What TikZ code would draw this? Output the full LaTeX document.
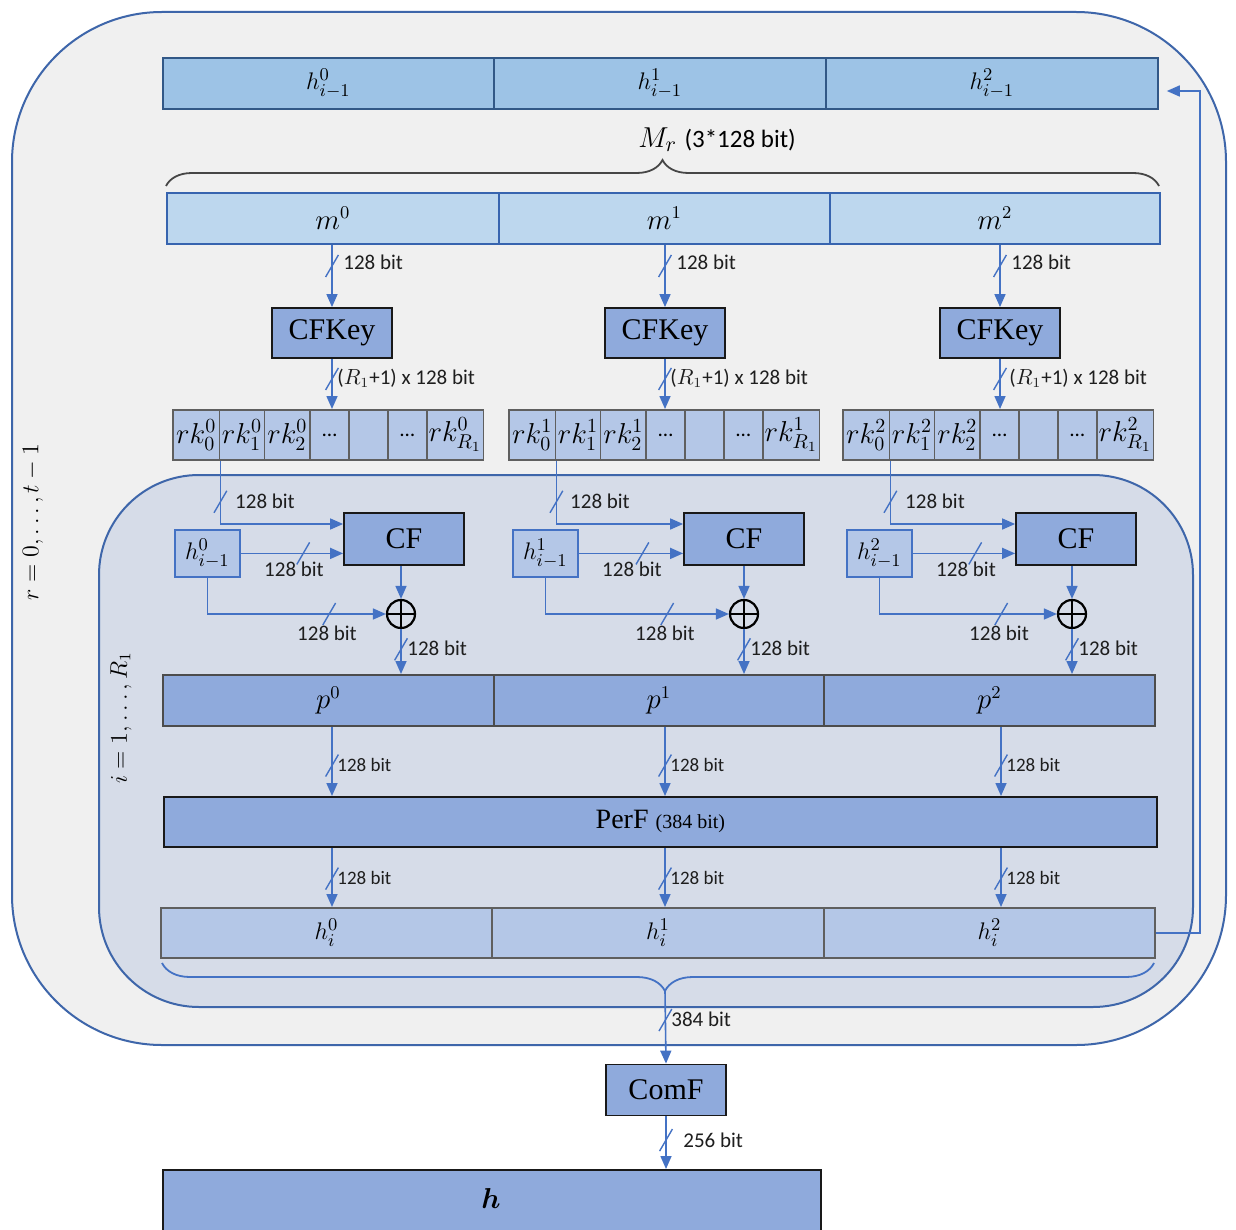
\documentclass[tikz,border=0pt]{standalone}
\usepackage{amsmath}
\usepackage{fontspec}
\setmainfont{Liberation Serif}
\newfontfamily\lblfont{Carlito}
\usetikzlibrary{arrows.meta,decorations.pathreplacing,decorations.markings,calc}

\definecolor{outerfill}{RGB}{240,240,240}
\definecolor{innerfill}{RGB}{214,220,232}
\definecolor{frameblue}{RGB}{62,102,170}
\definecolor{linkblue}{RGB}{68,114,196}
\definecolor{barfill}{RGB}{157,195,230}
\definecolor{barline}{RGB}{50,88,135}
\definecolor{msgfill}{RGB}{189,215,238}
\definecolor{msgline}{RGB}{55,100,175}
\definecolor{funcfill}{RGB}{143,170,220}
\definecolor{cellfill}{RGB}{180,199,231}
\definecolor{cellline}{RGB}{95,95,95}
\definecolor{darkline}{RGB}{25,25,25}
\definecolor{bracegray}{RGB}{70,70,70}
\definecolor{lbltext}{RGB}{30,30,30}

\tikzset{
  x=0.5pt, y=-0.5pt,
  wh/.style 2 args={minimum width={(#1)*0.5pt}, minimum height={(#2)*0.5pt}},
  cell/.style={draw, line width=0.9pt, inner sep=0pt, anchor=north west,
    font=\fontsize{12.5}{13}\selectfont},
  barcell/.style={cell, fill=barfill, draw=barline},
  msgcell/.style={cell, fill=msgfill, draw=msgline, font=\fontsize{13.5}{14}\selectfont},
  pcell/.style={cell, fill=funcfill, draw=cellline!80!black, font=\fontsize{13.5}{14}\selectfont},
  hcell/.style={cell, fill=cellfill, draw=cellline},
  rkcell/.style={cell, fill=cellfill, draw=cellline, font=\fontsize{14.5}{15}\selectfont},
  func/.style={draw=darkline, fill=funcfill, line width=0.9pt, inner sep=0pt,
    font=\fontsize{15}{16}\selectfont},
  prevbox/.style={cell, fill=cellfill, draw=linkblue},
  xorn/.style={circle, draw=black, line width=1.1pt, minimum size=14pt, inner sep=0pt,
    path picture={\draw[line width=1.1pt]
      (path picture bounding box.north) -- (path picture bounding box.south)
      (path picture bounding box.west) -- (path picture bounding box.east);}},
  link/.style={draw=linkblue, line width=0.8pt, -{Triangle[length=6.5pt,width=5.5pt]}},
  slash/.style={postaction={decorate, decoration={markings, mark=at position #1 with
    {\pgftransformresetnontranslations
     \draw[arrows=-, line width=0.7pt, linkblue] (-3.2pt,-5.5pt) -- (3.2pt,5.5pt);}}}},
  bitlbl/.style={font=\lblfont\fontsize{10.5}{12}\selectfont, text=lbltext, inner sep=0pt},
  bitsmall/.style={font=\lblfont\fontsize{9.5}{10}\selectfont, text=lbltext, inner sep=0pt},
  framebox/.style={draw=frameblue, line width=1pt},
}

\begin{document}
\begin{tikzpicture}
\useasboundingbox (0,0) rectangle (1236,1230);
\fill[white] (0,0) rectangle (1236,1230);

% outer loop over r and inner loop over i
\draw[framebox, fill=outerfill, rounded corners=75pt] (12,12) rectangle (1226,1045);
\draw[framebox, fill=innerfill, rounded corners=50pt] (99,475) rectangle (1193,1007);

\node[rotate=90, font=\fontsize{12.5}{13}\selectfont] (rlab) at (33,522) {$r = 0, \dots, t-1$};
\node[rotate=90, font=\fontsize{12}{13}\selectfont] (ilab) at (121,718) {$i = 1, \dots, R_1$};

% chaining value of the previous step
\foreach \i/\a/\b in {0/162/493,1/493/825,2/825/1157}{
  \node[barcell, wh={\b-\a}{51}] (hp\i) at (\a,57) {$h^{\i}_{i-1}$};
}

% message block
\node[font=\fontsize{15}{16}\selectfont, inner sep=0pt] (mr) at (717,140)
  {$M_r$ {\lblfont\fontsize{12.5}{14}\selectfont(3*128 bit)}};
\draw[bracegray, line width=0.9pt, decorate, decoration={brace, amplitude=13pt}]
  (166,186) -- (1159,186);
\foreach \i/\a/\b in {0/166/498,1/498/829,2/829/1159}{
  \node[msgcell, wh={\b-\a}{51}] (m\i) at (\a,192) {$m^{\i}$};
}

% column axes
\coordinate (ax0) at (332,0);
\coordinate (ax1) at (665,0);
\coordinate (ax2) at (1001,0);

% key schedule
\foreach \g/\kx in {0/332,1/665,2/1000}{
  \node[func, wh={120}{50}] (cfk\g) at (\kx,333) {CFKey};
}

\foreach \g/\gx in {0/172,1/508,2/842}{
  \foreach \c/\o/\w/\t in {0/0/46.6/{$rk^{\g}_{0}$}, 1/46.6/45/{$rk^{\g}_{1}$},
      2/91.6/45.7/{$rk^{\g}_{2}$}, 3/137.3/39/{\lblfont\fontsize{10.5}{12}\selectfont …},
      4/176.3/38.7/{}, 5/215/39/{\lblfont\fontsize{10.5}{12}\selectfont …},
      6/254/56.6/{$rk^{\g}_{R_1}$}}{
    \node[rkcell, wh={\w}{50}] (rk\g-\c) at (\gx+\o,409) {\t};
  }
}

% compression function of one step
\foreach \g/\cx/\hx/\xx in {0/404/174/401,1/744/512/744,2/1076/846/1072}{
  \node[func, wh={120}{52}] (cf\g) at (\cx,539) {CF};
  \node[prevbox, wh={65}{47}] (h\g) at (\hx,529) {$h^{\g}_{i-1}$};
  \node[xorn] (x\g) at (\xx,614) {};
}

\foreach \i/\a/\b in {0/162/493,1/493/823,2/823/1154}{
  \node[pcell, wh={\b-\a}{51}] (p\i) at (\a,674) {$p^{\i}$};
}

\node[func, wh={993}{50}, anchor=north west, font=\fontsize{14}{15}\selectfont] (perf) at (163,796)
  {PerF {\fontsize{10}{11}\selectfont(384 bit)}};

\foreach \i/\a/\b in {0/160/491,1/491/823,2/823/1154}{
  \node[hcell, wh={\b-\a}{50}] (hi\i) at (\a,907) {$h^{\i}_{i}$};
}

% output transformation
\node[func, wh={120}{51}] (comf) at (666,1090) {ComF};
\begin{scope}
  \clip (0,0) rectangle (1236,1230);
  \node[func, wh={658}{90}, anchor=north west] (hout) at (162,1169) {};
\end{scope}
\node[font=\fontsize{15.5}{16}\selectfont, inner sep=0pt] (hlab) at (491,1198) {$\boldsymbol{h}$};

% bit-width brace over the step output
\draw[linkblue, line width=0.9pt, decorate, decoration={brace, amplitude=14pt, aspect=0.493}]
  (1154,963) -- (162,963);
\coordinate (btip) at (665,991);

% ---------------- connectors ----------------
\foreach \g in {0,1,2}{
  \draw[link, slash=0.34] (cfk\g |- m\g.south) -- (cfk\g.north);
  \draw[link, slash=0.4] (cfk\g.south) -- (cfk\g.south |- rk\g-0.north);
  \draw[link, slash=20.5pt] (rk\g-0.south east) |- ($(cf\g.west)+(0,-15)$);
  \draw[link, slash=0.61] (h\g.east) -- (h\g.east -| cf\g.west);
  \draw[link, slash=79pt] (h\g.south) |- (x\g.west);
  \draw[link] (cf\g.south -| x\g) -- (x\g.north);
  \draw[link, slash=0.45] (x\g.south) -- (x\g |- p\g.north);
  \draw[link, slash=0.56] (ax\g |- p\g.south) -- (ax\g |- perf.north);
  \draw[link, slash=0.52] (ax\g |- perf.south) -- (ax\g |- hi\g.north);
}

\draw[link, slash=0.4] (btip) -- (comf.north);
\draw[link, slash=0.45] (comf.south) -- (comf.south |- hout.north);

% feedback of the chaining value
\coordinate (fb) at (1200,91);
\draw[link, shorten >=4pt] (hi2.east) -| (fb) -- (fb -| hp2.east);

% ---------------- width labels ----------------
\foreach \g/\mx/\kx in {0/343/337,1/676/670,2/1011/1009}{
  \node[bitlbl, anchor=west] (lm\g) at (\mx,262) {128 bit};
  \node[bitlbl, anchor=west] (lk\g) at (\kx,378) {($R_1$+1) x 128 bit};
}
\foreach \g/\rx/\hx/\xx in {0/219/174/401,1/554/512/744,2/889/846/1072}{
  \node[bitlbl] (lr\g) at (\rx+46,501) {128 bit};
  \node[bitlbl] (lc\g) at (\hx+120,569) {128 bit};
  \node[bitlbl] (lx\g) at (\hx+153,633) {128 bit};
  \node[bitlbl, anchor=west] (lo\g) at (\xx+6,648) {128 bit};
}
\foreach \g/\ax in {0/332,1/665,2/1001}{
  \node[bitsmall, anchor=west] (lp\g) at (\ax+5,765) {128 bit};
  \node[bitsmall, anchor=west] (lq\g) at (\ax+5,878) {128 bit};
}
\node[bitlbl, anchor=west] (lb384) at (671,1019) {384 bit};
\node[bitlbl, anchor=west] (lb256) at (683,1140) {256 bit};
\end{tikzpicture}
\end{document}
